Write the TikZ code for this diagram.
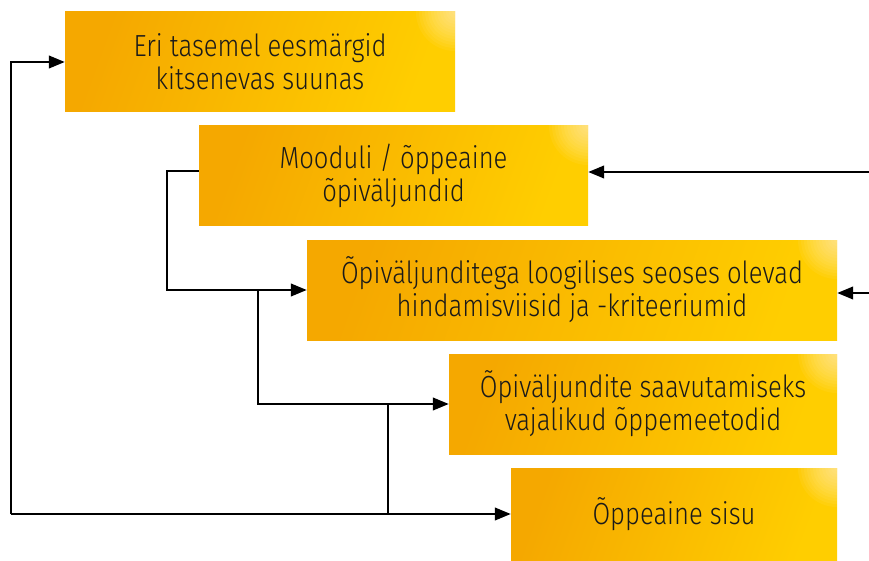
\documentclass[tikz,border=0pt]{standalone}
\usepackage{fontspec}
\setmainfont{Fira Sans Light}[FakeStretch=0.84]
\usetikzlibrary{arrows.meta}
\definecolor{boxorange}{HTML}{F5A800}
\definecolor{boxyellow}{HTML}{FFCE00}
\definecolor{txt}{HTML}{1A1A1A}
\tikzset{
  box/.style={minimum height=100pt, inner sep=0pt, align=center, text=txt,
    font=\fontsize{30.5}{33}\selectfont,
    left color=boxorange, right color=boxyellow, shading angle=70,
    path picture={\foreach \r in {3,6,...,39} {\fill[white, opacity=0.05] (path picture bounding box.north east) circle (\r pt);}}},
  conn/.style={line width=2.5pt, black},
  arr/.style={conn, -{Triangle[length=16pt,width=12.5pt]}},
}
\begin{document}
\begin{tikzpicture}[x=1pt,y=-1pt]
\useasboundingbox (0,0) rectangle (869,561);
\node[box, minimum width=390pt] (b1) at (260,62) {Eri tasemel eesmärgid\\kitsenevas suunas};
\node[box, minimum width=389pt] (b2) at (393.5,176) {Mooduli / õppeaine\\õpiväljundid};
\node[box, minimum width=530pt] (b3) at (572,290) {Õpiväljunditega loogilises seoses olevad\\hindamisviisid ja -kriteeriumid};
\node[box, minimum width=388pt] (b4) at (643,404) {Õpiväljundite saavutamiseks\\vajalikud õppemeetodid};
\node[box, minimum width=326pt, minimum height=92pt] (b5) at (674,514) {Õppeaine sisu};
\coordinate (k1) at (167,171);
\coordinate (j1) at (258,290);
\coordinate (j2) at (388,404);
\coordinate (lc) at (11,514);
\coordinate (r1) at (869,172);
\coordinate (r2) at (869,293);
\draw[arr] ([yshift=5pt]b2.west) -- (k1) |- (b3.west);
\draw[arr] (j1) |- (b4.west);
\draw[conn] (j2) -- (j2 |- lc);
\draw[arr] (lc) -- (b5.west);
\draw[arr] (lc) |- (b1.west);
\draw[arr] (r1) -- (r1 -| b2.east);
\draw[arr] (r2) -- (r2 -| b3.east);
\end{tikzpicture}
\end{document}
